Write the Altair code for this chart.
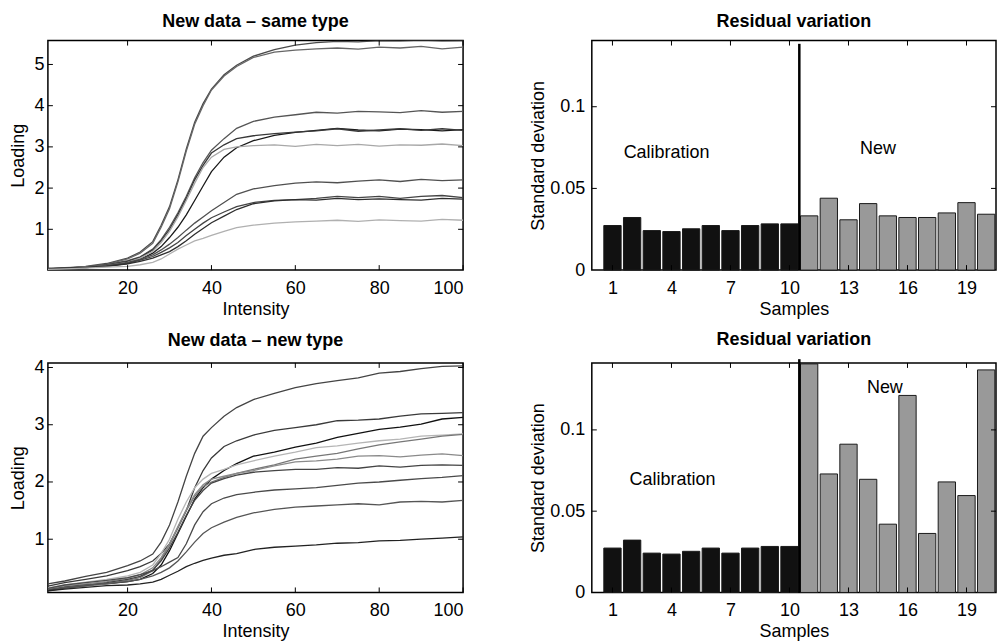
import altair as alt
import pandas as pd

FONT = "Liberation Sans"
FS = 18

# Intensity positions at which the loading curves are listed
intensity = [1, 5, 10, 15, 20, 23, 26, 28, 30, 32, 34, 36, 38, 40, 43, 46, 50,
             55, 60, 65, 70, 75, 80, 85, 90, 95, 100]

# Loadings, new data of the same type
same_a = [0.05, 0.06, 0.10, 0.17, 0.30, 0.45, 0.70, 1.10, 1.55, 2.20, 2.95, 3.60, 4.05, 4.40, 4.75, 4.98, 5.20, 5.36, 5.47, 5.53, 5.56, 5.55, 5.58, 5.57, 5.59, 5.57, 5.58]
same_b = [0.04, 0.07, 0.09, 0.15, 0.28, 0.42, 0.66, 1.05, 1.50, 2.15, 2.90, 3.55, 4.00, 4.38, 4.72, 4.95, 5.17, 5.30, 5.35, 5.38, 5.40, 5.37, 5.42, 5.40, 5.44, 5.38, 5.42]
same_c = [0.04, 0.06, 0.09, 0.14, 0.24, 0.33, 0.52, 0.75, 1.05, 1.40, 1.80, 2.25, 2.62, 2.92, 3.20, 3.45, 3.62, 3.72, 3.78, 3.84, 3.82, 3.86, 3.85, 3.83, 3.88, 3.84, 3.86]
same_d = [0.03, 0.05, 0.07, 0.11, 0.17, 0.27, 0.42, 0.58, 0.80, 1.05, 1.35, 1.70, 2.05, 2.40, 2.75, 2.98, 3.15, 3.28, 3.35, 3.40, 3.45, 3.41, 3.39, 3.43, 3.42, 3.39, 3.42]
same_e = [0.05, 0.06, 0.08, 0.13, 0.22, 0.32, 0.50, 0.72, 1.00, 1.35, 1.75, 2.20, 2.55, 2.85, 3.05, 3.20, 3.27, 3.32, 3.36, 3.39, 3.44, 3.38, 3.41, 3.44, 3.40, 3.44, 3.40]
same_f = [0.03, 0.05, 0.08, 0.12, 0.20, 0.30, 0.46, 0.68, 0.95, 1.30, 1.70, 2.12, 2.50, 2.75, 2.94, 3.00, 3.03, 3.05, 3.01, 3.06, 3.03, 3.06, 3.02, 3.05, 3.04, 3.07, 3.03]
same_g = [0.04, 0.05, 0.08, 0.12, 0.20, 0.27, 0.38, 0.50, 0.64, 0.80, 0.98, 1.15, 1.30, 1.45, 1.65, 1.85, 1.98, 2.06, 2.12, 2.15, 2.13, 2.17, 2.20, 2.16, 2.21, 2.18, 2.20]
same_h = [0.03, 0.05, 0.07, 0.11, 0.18, 0.25, 0.34, 0.44, 0.55, 0.68, 0.85, 1.00, 1.15, 1.28, 1.42, 1.55, 1.65, 1.70, 1.72, 1.75, 1.80, 1.77, 1.80, 1.75, 1.80, 1.82, 1.77]
same_i = [0.04, 0.06, 0.07, 0.10, 0.16, 0.22, 0.30, 0.38, 0.46, 0.58, 0.72, 0.88, 1.02, 1.16, 1.32, 1.48, 1.62, 1.69, 1.72, 1.71, 1.75, 1.72, 1.74, 1.72, 1.71, 1.75, 1.73]
same_j = [0.03, 0.04, 0.06, 0.08, 0.10, 0.14, 0.20, 0.28, 0.40, 0.52, 0.62, 0.72, 0.78, 0.85, 0.95, 1.04, 1.10, 1.15, 1.18, 1.20, 1.22, 1.19, 1.23, 1.21, 1.20, 1.24, 1.22]

# Loadings, new data of a new type
new_k = [0.22, 0.27, 0.35, 0.42, 0.54, 0.62, 0.74, 0.95, 1.25, 1.65, 2.10, 2.50, 2.80, 2.95, 3.15, 3.30, 3.44, 3.55, 3.65, 3.72, 3.77, 3.82, 3.90, 3.93, 3.98, 4.02, 4.03]
new_l = [0.18, 0.24, 0.30, 0.36, 0.45, 0.52, 0.62, 0.75, 0.92, 1.20, 1.50, 1.90, 2.20, 2.42, 2.62, 2.72, 2.82, 2.90, 2.95, 3.00, 3.07, 3.08, 3.10, 3.15, 3.19, 3.20, 3.21]
new_m = [0.12, 0.17, 0.20, 0.22, 0.26, 0.30, 0.40, 0.55, 0.80, 1.10, 1.40, 1.70, 1.90, 2.05, 2.20, 2.32, 2.45, 2.52, 2.61, 2.68, 2.78, 2.85, 2.92, 2.96, 3.01, 3.10, 3.13]
new_n = [0.15, 0.20, 0.25, 0.30, 0.36, 0.42, 0.55, 0.75, 1.00, 1.35, 1.65, 1.90, 2.05, 2.15, 2.22, 2.30, 2.37, 2.45, 2.52, 2.60, 2.63, 2.68, 2.72, 2.75, 2.80, 2.82, 2.84]
new_o = [0.10, 0.14, 0.18, 0.22, 0.28, 0.33, 0.45, 0.65, 0.90, 1.20, 1.50, 1.75, 1.92, 2.00, 2.08, 2.15, 2.22, 2.30, 2.40, 2.45, 2.50, 2.58, 2.65, 2.70, 2.75, 2.80, 2.83]
new_p = [0.13, 0.18, 0.22, 0.26, 0.32, 0.38, 0.50, 0.68, 0.92, 1.22, 1.52, 1.78, 1.95, 2.05, 2.10, 2.15, 2.20, 2.28, 2.35, 2.37, 2.40, 2.45, 2.46, 2.44, 2.47, 2.49, 2.46]
new_q = [0.11, 0.15, 0.19, 0.24, 0.30, 0.35, 0.46, 0.62, 0.85, 1.12, 1.42, 1.68, 1.85, 1.98, 2.06, 2.12, 2.17, 2.20, 2.22, 2.22, 2.25, 2.24, 2.28, 2.26, 2.29, 2.30, 2.29]
new_r = [0.14, 0.20, 0.24, 0.28, 0.33, 0.38, 0.45, 0.52, 0.60, 0.68, 0.92, 1.25, 1.48, 1.62, 1.72, 1.78, 1.82, 1.86, 1.88, 1.90, 1.94, 1.98, 2.00, 2.03, 2.06, 2.08, 2.11]
new_s = [0.12, 0.16, 0.20, 0.23, 0.26, 0.30, 0.36, 0.42, 0.50, 0.62, 0.78, 0.95, 1.10, 1.20, 1.30, 1.38, 1.46, 1.52, 1.56, 1.58, 1.60, 1.62, 1.60, 1.65, 1.66, 1.65, 1.68]
new_t = [0.10, 0.13, 0.16, 0.19, 0.20, 0.22, 0.25, 0.30, 0.37, 0.44, 0.52, 0.58, 0.63, 0.67, 0.72, 0.75, 0.82, 0.86, 0.88, 0.90, 0.93, 0.94, 0.97, 0.98, 1.00, 1.02, 1.04]

same_curves = {"a": same_a, "b": same_b, "c": same_c, "d": same_d, "e": same_e,
               "f": same_f, "g": same_g, "h": same_h, "i": same_i, "j": same_j}
same_colors = ["#4a4a4a", "#666666", "#555555", "#1a1a1a", "#383838",
               "#a8a8a8", "#505050", "#444444", "#2e2e2e", "#b0b0b0"]
new_curves = {"k": new_k, "l": new_l, "m": new_m, "n": new_n, "o": new_o,
              "p": new_p, "q": new_q, "r": new_r, "s": new_s, "t": new_t}
new_colors = ["#444444", "#3a3a3a", "#111111", "#b5b5b5", "#777777",
              "#8a8a8a", "#444444", "#4a4a4a", "#555555", "#222222"]

# Residual standard deviation per sample
samples = list(range(1, 21))
resid_same = [0.0273, 0.0322, 0.0242, 0.0236, 0.0253, 0.0273, 0.0242, 0.0273, 0.0283, 0.0283,
              0.0332, 0.0440, 0.0308, 0.0407, 0.0332, 0.0322, 0.0322, 0.0350, 0.0413, 0.0342]
resid_new = [0.0273, 0.0322, 0.0242, 0.0236, 0.0253, 0.0273, 0.0242, 0.0273, 0.0283, 0.0283,
             0.1406, 0.0729, 0.0912, 0.0696, 0.0420, 0.1212, 0.0363, 0.0680, 0.0596, 0.1369]
groups = ["Calibration"] * 10 + ["New"] * 10

line_xticks = [20, 40, 60, 80, 100]
bar_xticks = [1, 4, 7, 10, 13, 16, 19]
bar_yticks = [0.05, 0.1]

LW, RW = 416, 405   # plot widths, left and right column
PH = 230            # plot height
TICK = 5


def frame_ticks(xfield, xvals, yfield, yvals, w, h):
    """Inward tick marks on all four sides of a panel."""
    xt = pd.DataFrame({xfield: xvals})
    yt = pd.DataFrame({yfield: yvals})
    rule = dict(color="black", strokeWidth=1)
    return [
        alt.Chart(xt).mark_rule(**rule).encode(x=f"{xfield}:Q", y=alt.value(h), y2=alt.value(h - TICK)),
        alt.Chart(xt).mark_rule(**rule).encode(x=f"{xfield}:Q", y=alt.value(0), y2=alt.value(TICK)),
        alt.Chart(yt).mark_rule(**rule).encode(y=f"{yfield}:Q", x=alt.value(0), x2=alt.value(TICK)),
        alt.Chart(yt).mark_rule(**rule).encode(y=f"{yfield}:Q", x=alt.value(w), x2=alt.value(w - TICK)),
    ]


def line_panel(curves, colors, title, ydomain, yticks):
    rows = [{"Intensity": x, "Loading": v, "curve": name}
            for name, vals in curves.items() for x, v in zip(intensity, vals)]
    df = pd.DataFrame(rows)
    lines = alt.Chart(df).mark_line(strokeWidth=1.3, clip=True).encode(
        x=alt.X("Intensity:Q",
                scale=alt.Scale(domain=[1, 100], nice=False, zero=False),
                axis=alt.Axis(values=line_xticks, title="Intensity", format="d",
                              labelPadding=9, titlePadding=3)),
        y=alt.Y("Loading:Q",
                scale=alt.Scale(domain=ydomain, nice=False, zero=False),
                axis=alt.Axis(values=yticks, title="Loading", format="d",
                              labelPadding=4, titlePadding=6)),
        color=alt.Color("curve:N", scale=alt.Scale(domain=list(curves.keys()), range=colors),
                        legend=None),
        order="curve:N",
    )
    return alt.layer(lines, *frame_ticks("Intensity", line_xticks, "Loading", yticks, LW, PH)).properties(
        width=LW, height=PH, title=title)


def bar_panel(values, title, top, divider_top, lbl_cal, lbl_new):
    df = pd.DataFrame({"Sample": samples, "Std": values, "group": groups})
    bars = alt.Chart(df).transform_calculate(
        lo="datum.Sample - 0.44", hi="datum.Sample + 0.44"
    ).mark_bar(stroke="#1a1a1a", strokeWidth=1).encode(
        x=alt.X("lo:Q",
                scale=alt.Scale(domain=[-0.05, 20.5], nice=False, zero=False),
                axis=alt.Axis(values=bar_xticks, title="Samples", format="d",
                              labelPadding=9, titlePadding=3)),
        x2="hi:Q",
        y=alt.Y("Std:Q",
                scale=alt.Scale(domain=[0, top], nice=False),
                axis=alt.Axis(values=[0] + bar_yticks, title="Standard deviation", format="~g",
                              labelPadding=7, titlePadding=2)),
        y2=alt.datum(0),
        color=alt.Color("group:N", scale=alt.Scale(domain=["Calibration", "New"],
                                                   range=["#111111", "#999999"]),
                        legend=None),
    )
    divider = alt.Chart(pd.DataFrame({"lo": [10.5], "Std": [0.0], "top": [divider_top]})).mark_rule(
        color="black", strokeWidth=2.5, clip=False).encode(x="lo:Q", y="Std:Q", y2="top:Q")
    labels = alt.Chart(pd.DataFrame({
        "lo": [lbl_cal[0], lbl_new[0]],
        "Std": [lbl_cal[1], lbl_new[1]],
        "text": ["Calibration", "New"],
    })).mark_text(font=FONT, fontSize=FS, color="black").encode(x="lo:Q", y="Std:Q", text="text:N")
    return alt.layer(bars, divider, labels,
                     *frame_ticks("lo", bar_xticks, "Std", bar_yticks, RW, PH)).properties(
        width=RW, height=PH, title=title)


chart = alt.concat(
    line_panel(same_curves, same_colors, "New data \u2013 same type", [0.01, 5.58], [1, 2, 3, 4, 5]),
    bar_panel(resid_same, "Residual variation", 0.1405, 0.1385, (3.75, 0.0717), (14.5, 0.0743)),
    line_panel(new_curves, new_colors, "New data \u2013 new type", [0.07, 4.08], [1, 2, 3, 4]),
    bar_panel(resid_new, "Residual variation", 0.1412, 0.1435, (4.05, 0.0692), (14.85, 0.126)),
    columns=2,
    spacing=alt.RowColnumber(row=93, column=129),
    bounds="flush",
).resolve_scale(
    color="independent",
).properties(
    padding={"left": 9, "top": 11, "right": 0, "bottom": 0},
    background="white",
).configure_view(
    stroke="black", strokeWidth=1.5,
).configure_axis(
    labelFont=FONT, labelFontSize=FS, labelColor="black",
    titleFont=FONT, titleFontSize=FS, titleFontWeight="normal", titleColor="black",
    domain=False, ticks=False, grid=False,
).configure_title(
    font=FONT, fontSize=FS, fontWeight="bold", color="black", anchor="middle",
    frame="group", offset=9,
)

chart.save("out.html", embed_options={"renderer": "svg", "actions": False})
